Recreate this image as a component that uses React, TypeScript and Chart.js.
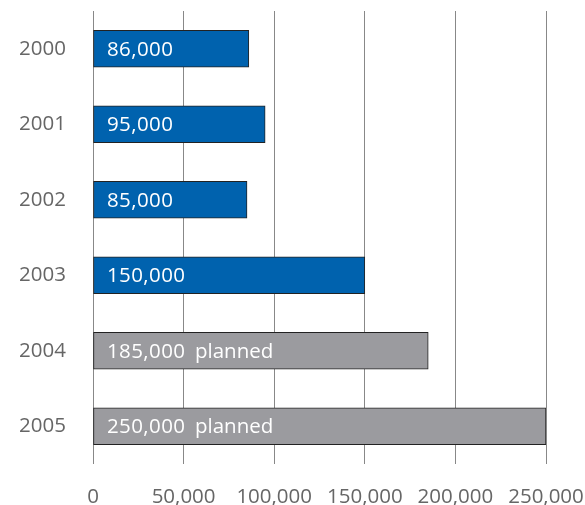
import React, { useEffect, useRef } from "react";
import { Chart, registerables } from "chart.js";

Chart.register(...registerables);

const years = ["2000", "2001", "2002", "2003", "2004", "2005"];
const values = [86000, 95000, 85000, 150000, 185000, 250000];
const planned = [false, false, false, false, true, true];
const plannedText = "planned";
const xTicks = [0, 50000, 100000, 150000, 200000, 250000];

const BLUE = "#0062ae";
const GRAY = "#9b9b9f";
const FONT = "'Open Sans', sans-serif";

const fmt = (v: number) => v.toLocaleString("en-US");

const barLabels = {
  id: "barLabels",
  afterDatasetsDraw(chart: any) {
    const ctx = chart.ctx;
    const meta = chart.getDatasetMeta(0);
    ctx.save();
    ctx.fillStyle = "#ffffff";
    ctx.font = `20.5px ${FONT}`;
    ctx.textAlign = "left";
    ctx.textBaseline = "middle";
    meta.data.forEach((bar: any, i: number) => {
      const num = fmt(values[i]);
      const x = bar.base + 13.5;
      const y = bar.y + 1;
      ctx.letterSpacing = "0.4px";
      ctx.fillText(num, x, y);
      if (planned[i]) {
        const m1 = ctx.measureText(num);
        ctx.letterSpacing = "0px";
        const m2 = ctx.measureText(plannedText);
        const inkRight = x + m1.actualBoundingBoxRight;
        const px = inkRight + 11.7 + m2.actualBoundingBoxLeft;
        ctx.fillText(plannedText, px, y);
      }
    });
    ctx.restore();
  },
};

const zeroPad = (axis: any) => {
  axis.paddingLeft = 0;
  axis.paddingRight = 0;
  axis.paddingTop = 0;
  axis.paddingBottom = 0;
};

export default function App() {
  const ref = useRef<HTMLCanvasElement>(null);
  useEffect(() => {
    if (!ref.current) return;
    const chart = new Chart(ref.current, {
      type: "bar",
      data: {
        labels: years,
        datasets: [
          {
            data: values,
            backgroundColor: planned.map((p) => (p ? GRAY : BLUE)),
            borderColor: "#222222",
            borderWidth: 1,
            borderSkipped: false,
            barThickness: 37,
          },
        ],
      },
      options: {
        indexAxis: "y",
        animation: false,
        responsive: false,
        maintainAspectRatio: false,
        layout: { padding: { top: 11, right: 39, left: 0, bottom: 0 } },
        plugins: { legend: { display: false }, tooltip: { enabled: false } },
        scales: {
          x: {
            min: 0,
            max: 250000,
            afterBuildTicks: (axis: any) => {
              axis.ticks = xTicks.map((v) => ({ value: v }));
            },
            grid: { color: "#888888", lineWidth: 1, drawTicks: false },
            border: { display: false },
            ticks: {
              color: "#666666",
              font: { family: FONT, size: 20.5 },
              padding: 21,
              callback: (v: any) => fmt(Number(v)),
              maxRotation: 0,
            },
            afterFit: (axis: any) => {
              axis.height = 41;
              zeroPad(axis);
            },
          },
          y: {
            grid: { display: false, drawTicks: false },
            border: { display: false },
            ticks: {
              color: "#666666",
              font: { family: FONT, size: 20.5 },
              padding: 27,
            },
            afterFit: (axis: any) => {
              axis.width = 93;
              zeroPad(axis);
            },
          },
        },
      },
      plugins: [barLabels],
    });
    return () => chart.destroy();
  }, []);
  return (
    <div style={{ position: "fixed", left: 0, top: 0, width: 585, height: 505, background: "#fff" }}>
      <canvas ref={ref} width={585} height={505} style={{ width: 585, height: 505 }} />
    </div>
  );
}
